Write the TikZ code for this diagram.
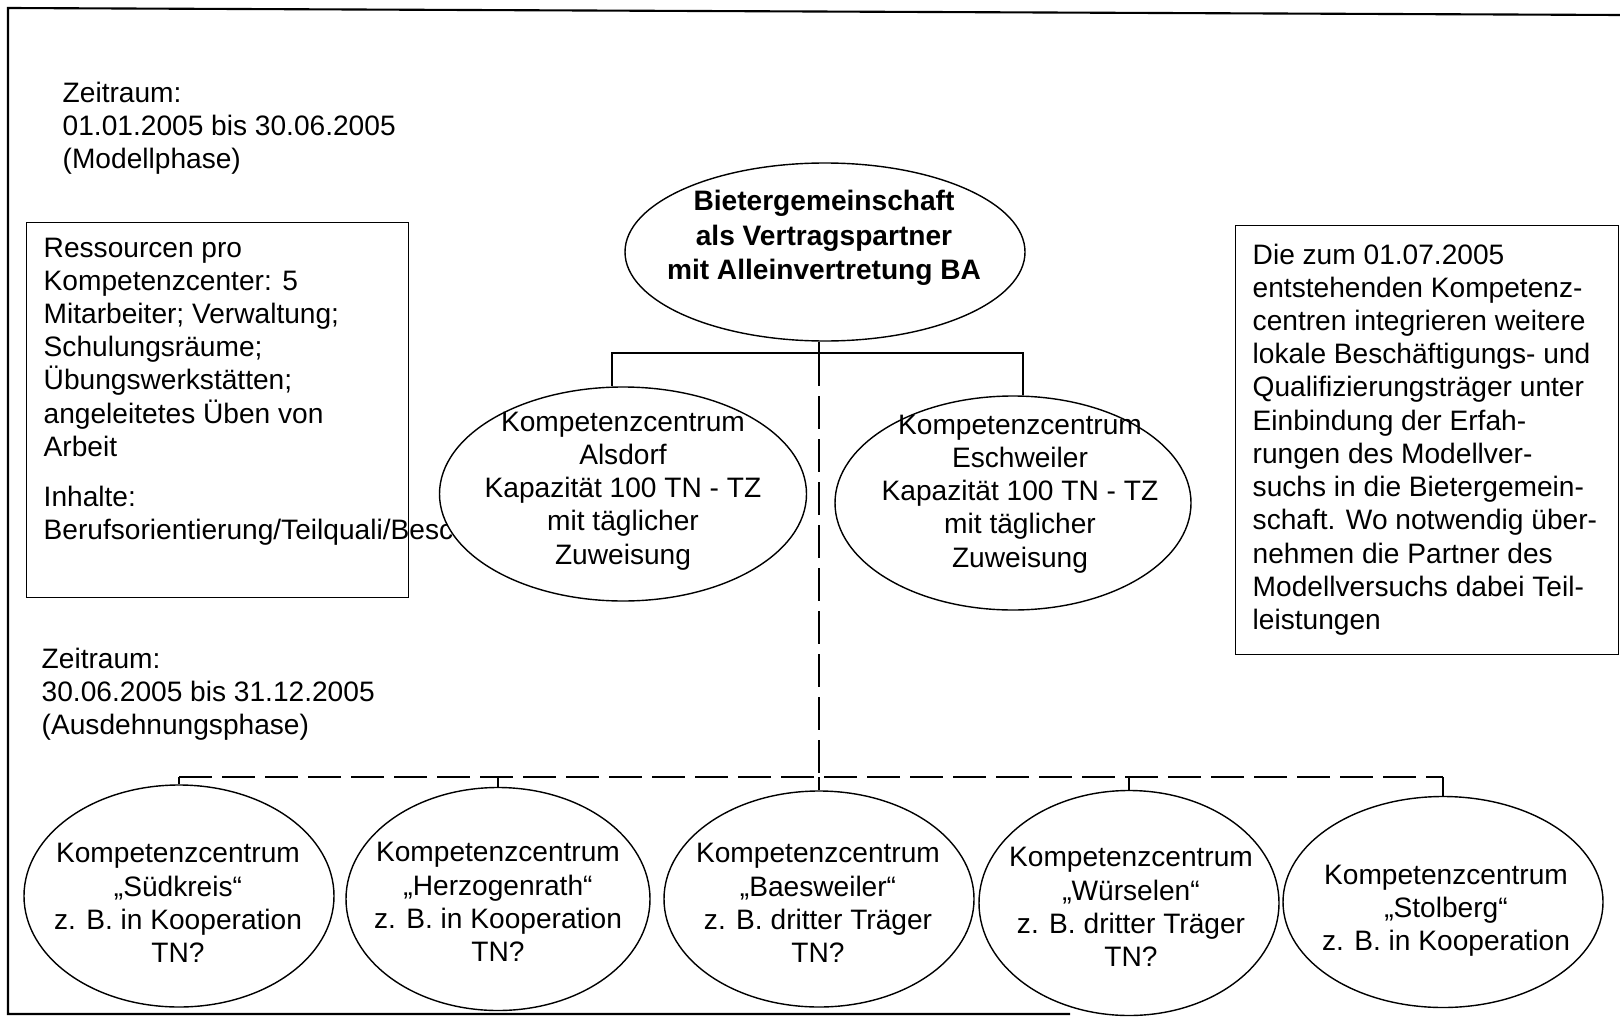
\documentclass[tikz,border=0pt]{standalone}
\usepackage{fontspec}
\setmainfont{Liberation Sans}
\usetikzlibrary{shapes.geometric}
\tikzset{
  oval/.style={ellipse,draw,fill=white,inner sep=0pt},
  ovaltext/.style={align=center,inner sep=0pt},
  plaintext/.style={align=left,anchor=north west,inner sep=0pt},
  infobox/.style={draw,anchor=north west,inner sep=0pt},
  busdash/.style={dash pattern=on 3.3mm off 1mm},
}
\begin{document}
\begin{tikzpicture}[font=\fontsize{8}{9.45}\selectfont]
        \useasboundingbox (0,0) rectangle (16.2,-10.22);
        \draw[line width=0.6pt] (16.2,-0.15) -- (0.08,-0.08) -- (0.08,-10.14) -- (10.7,-10.14);
        \node[plaintext] (zeit1) at (0.62,-0.81) {Zeitraum:\\01.01.2005 bis 30.06.2005\\(Modellphase)};
        \node[plaintext] (zeit2) at (0.41,-6.47) {Zeitraum:\\30.06.2005 bis 31.12.2005\\(Ausdehnungsphase)};
        \node[infobox,minimum width=3.82cm,minimum height=3.75cm] (ress) at (0.26,-2.22) {};
        \node[plaintext] (resstext) at (0.43,-2.37) {Ressourcen pro\\Kompetenzcenter: 5\\Mitarbeiter; Verwaltung;\\Schulungsräume;\\Übungswerkstätten;\\angeleitetes Üben von\\Arbeit\\[4.8pt]Inhalte:\\Berufsorientierung/Teilquali/Besc};
        \node[infobox,minimum width=3.83cm,minimum height=4.29cm] (ausblick) at (12.35,-2.25) {};
        \node[plaintext] (ausblicktext) at (12.52,-2.43) {Die zum 01.07.2005\\entstehenden Kompetenz-\\centren integrieren weitere\\lokale Beschäftigungs- und\\Qualifizierungsträger unter\\Einbindung der Erfah-\\rungen des Modellver-\\suchs in die Bietergemein-\\schaft. Wo notwendig über-\\nehmen die Partner des\\Modellversuchs dabei Teil-\\leistungen};
        \node[oval,minimum width=4.0cm,minimum height=1.78cm] (bieter) at (8.25,-2.52) {};
        \node[ovaltext,font=\fontsize{8}{9.8}\selectfont\bfseries] (bietertext) at (8.24,-2.38) {Bietergemeinschaft\\als Vertragspartner\\mit Alleinvertretung BA};
        \node[oval,minimum width=3.67cm,minimum height=2.14cm] (alsdorf) at (6.23,-4.94) {};
        \node[ovaltext] (alsdorftext) at (6.23,-4.91) {Kompetenzcentrum\\Alsdorf\\Kapazität 100 TN - TZ\\mit täglicher\\Zuweisung};
        \node[oval,minimum width=3.56cm,minimum height=2.14cm] (eschweiler) at (10.13,-5.03) {};
        \node[ovaltext] (eschweilertext) at (10.2,-4.94) {Kompetenzcentrum\\Eschweiler\\Kapazität 100 TN - TZ\\mit täglicher\\Zuweisung};
        \coordinate (hub) at (8.19,-3.53);
        \coordinate (alsjoin) at (6.12,-3.53);
        \coordinate (eschjoin) at (10.23,-3.53);
        \coordinate (bus) at (8.19,-7.77);
        \draw (hub |- bieter.south) -- (hub);
        \draw (alsjoin |- alsdorf.north) -- (alsjoin) -- (eschjoin) -- (eschjoin |- eschweiler.north);
        \draw[busdash] (hub) -- (bus);
        \node[oval,minimum width=3.1cm,minimum height=2.22cm] (suedkreis) at (1.79,-8.96) {};
        \node[ovaltext] (suedkreistext) at (1.78,-9.03) {Kompetenzcentrum\\„Südkreis“\\z. B. in Kooperation\\TN?};
        \node[oval,minimum width=3.04cm,minimum height=2.23cm] (herzogenrath) at (4.98,-8.99) {};
        \node[ovaltext] (herzogenrathtext) at (4.98,-9.02) {Kompetenzcentrum\\„Herzogenrath“\\z. B. in Kooperation\\TN?};
        \node[oval,minimum width=3.1cm,minimum height=2.16cm] (baesweiler) at (8.19,-8.99) {};
        \node[ovaltext] (baesweilertext) at (8.18,-9.03) {Kompetenzcentrum\\„Baesweiler“\\z. B. dritter Träger\\TN?};
        \node[oval,minimum width=3.0cm,minimum height=2.25cm] (wuerselen) at (11.29,-9.03) {};
        \node[ovaltext] (wuerselentext) at (11.31,-9.07) {Kompetenzcentrum\\„Würselen“\\z. B. dritter Träger\\TN?};
        \node[oval,minimum width=3.2cm,minimum height=2.11cm] (stolberg) at (14.43,-9.02) {};
        \node[ovaltext] (stolbergtext) at (14.46,-9.11) {Kompetenzcentrum\\„Stolberg“\\z. B. in Kooperation};
        \draw[busdash] (suedkreis.north |- bus) -- (stolberg.north |- bus);
        \foreach \kc in {suedkreis,herzogenrath,baesweiler,wuerselen,stolberg}
            \draw (\kc.north |- bus) -- (\kc.north);
    \end{tikzpicture}
\end{document}
